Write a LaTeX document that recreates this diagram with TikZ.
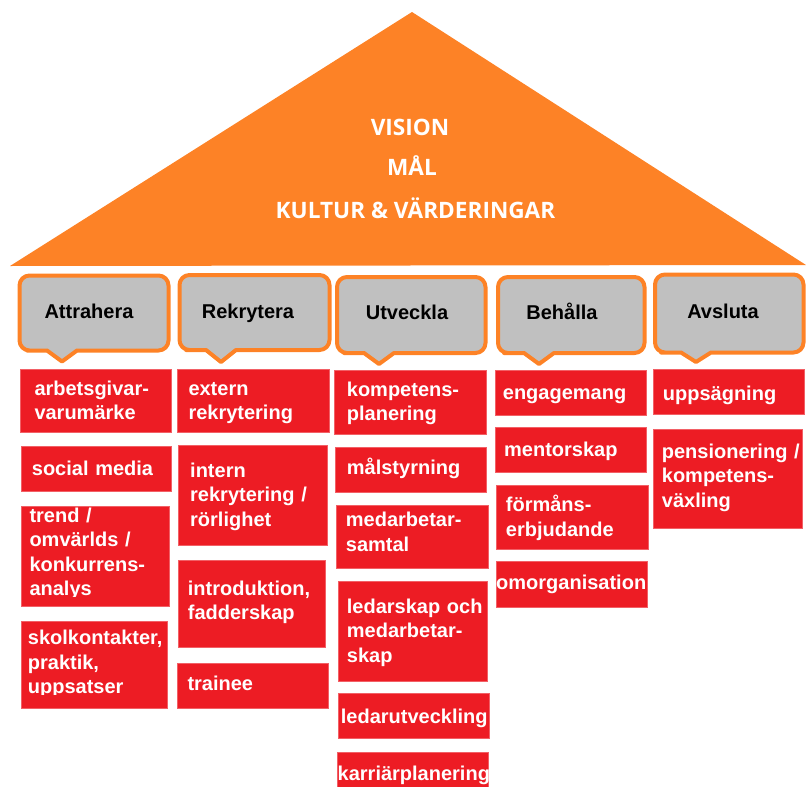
\documentclass[tikz,border=0pt]{standalone}
\usepackage{fontspec}
\setmainfont{Liberation Sans}
\newfontfamily\rooffont{Open Sans}
\definecolor{roofor}{RGB}{253,130,38}
\definecolor{boxred}{RGB}{237,28,36}
\definecolor{calgray}{RGB}{192,192,192}
\begin{document}
\begin{tikzpicture}[x=1pt,y=-1pt,
  redbox/.style={fill=boxred, draw=boxred!70!white, line width=0.8pt},
  boxtext/.style={anchor=base west, inner sep=0pt, text width=175pt, align=left, text=white, font=\fontsize{20}{24.5}\selectfont\bfseries},
  callout/.style={fill=calgray, draw=roofor, line width=4pt, line join=round},
  calltext/.style={anchor=base, inner sep=0pt, font=\fontsize{20}{24}\selectfont\bfseries},
  rooftext/.style={anchor=base, inner sep=0pt, text=white, font=\rooffont\fontsize{22.6}{26}\selectfont\bfseries}]
\useasboundingbox (0,0) rectangle (806,787);

% roof
\fill[roofor] (10,266) -- (412,12) -- (806,265) -- cycle;
\node[rooftext] (vision) at (410,135) {VISION};
\node[rooftext] (mal) at (412,175) {MÅL};
\node[rooftext] (kultur) at (415.5,218) {KULTUR \& VÄRDERINGAR};

% callouts
\newcommand\callout[6]{% l t r b tipx tipy
  \draw[callout] (#5,#6) -- (#5+15,#4) -- (#5+25,#4) [rounded corners=10pt] -- (#3,#4) -- (#3,#2) -- (#1,#2) -- (#1,#4) -- (#5-25,#4) [sharp corners] -- (#5-15,#4) -- cycle;}
\callout{19.5}{275.5}{168.5}{350.5}{62}{361.5}
\callout{179.5}{275}{329.5}{350}{221}{362}
\callout{337}{277}{485.5}{353}{379}{364}
\callout{498}{277}{644.5}{353}{539}{364}
\callout{655}{274.5}{803.5}{352.5}{696}{362}
\node[calltext] (attrahera) at (89,318.3) {Attrahera};
\node[calltext] (rekrytera) at (248,318.3) {Rekrytera};
\node[calltext] (utveckla) at (407,319.3) {Utveckla};
\node[calltext] (behalla) at (562,319.3) {Behålla};
\node[calltext] (avsluta) at (723,318.8) {Avsluta};

% column 1
\draw[redbox] (20,369) rectangle (171,432);
\node[boxtext] (a1) at (34.3,395) {arbetsgivar-\\varumärke};
\draw[redbox] (21,446) rectangle (171,491);
\node[boxtext] (a2) at (31.7,475) {social media};
\draw[redbox] (21,506) rectangle (169,606);
\begin{scope}
\clip (21,506) rectangle (169,596.3);
\node[boxtext] (a3) at (29.3,522) {trend /\\omvärlds /\\konkurrens-\\analys};
\end{scope}
\draw[redbox] (21,621) rectangle (167,708);
\begin{scope}
\clip (21,621) rectangle (167,694.5);
\node[boxtext] (a4) at (27.7,644.5) {skolkontakter,\\praktik,\\uppsatser};
\end{scope}

% column 2
\draw[redbox] (177,369) rectangle (329,432);
\node[boxtext] (r1) at (188.3,395) {extern\\rekrytering};
\draw[redbox] (178,445) rectangle (327,545);
\node[boxtext] (r2) at (190,477) {intern\\rekrytering /\\rörlighet};
\draw[redbox] (178,560) rectangle (325,647);
\node[boxtext] (r3) at (187.7,595) {introduktion,\\fadderskap};
\draw[redbox] (177,663) rectangle (328,708);
\node[boxtext] (r4) at (187.3,690) {trainee};

% column 3
\draw[redbox] (334,370) rectangle (486,434);
\node[boxtext] (u1) at (346.7,396) {kompetens-\\planering};
\draw[redbox] (335,447) rectangle (486,492);
\node[boxtext] (u2) at (346.7,474) {målstyrning};
\draw[redbox] (336,505) rectangle (488,568);
\node[boxtext] (u3) at (345.7,526.7) {medarbetar-\\samtal};
\draw[redbox] (338,581) rectangle (487,681);
\node[boxtext] (u4) at (346.7,613) {ledarskap och\\medarbetar-\\skap};
\draw[redbox] (338,693) rectangle (489,738);
\node[boxtext] (u5) at (340.7,723) {ledarutveckling};
\draw[redbox] (337,752) rectangle (488,795);
\node[boxtext] (u6) at (337.5,780) {karriärplanering};

% column 4
\draw[redbox] (495,370) rectangle (646,415);
\node[boxtext] (b1) at (502.7,399) {engagemang};
\draw[redbox] (495,427) rectangle (646,472);
\node[boxtext] (b2) at (504,456.7) {mentorskap};
\draw[redbox] (496,485) rectangle (648,549);
\node[boxtext] (b3) at (505.7,511.7) {förmåns-\\erbjudande};
\draw[redbox] (496,561) rectangle (647,607);
\node[boxtext] (b4) at (496,589.3) {omorganisation};

% column 5
\draw[redbox] (653,369) rectangle (804,414);
\node[boxtext] (s1) at (662.7,400.7) {uppsägning};
\draw[redbox] (653,429) rectangle (802,528);
\node[boxtext] (s2) at (661.7,458.3) {pensionering /\\kompetens-\\växling};
\end{tikzpicture}
\end{document}
